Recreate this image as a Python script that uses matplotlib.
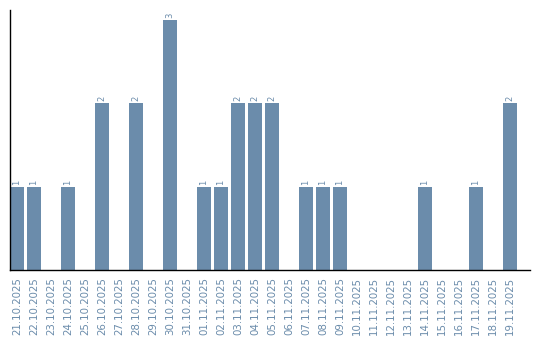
import matplotlib
matplotlib.use("Agg")
import matplotlib.pyplot as plt

dates = ["21.10.2025", "22.10.2025", "23.10.2025", "24.10.2025", "25.10.2025",
         "26.10.2025", "27.10.2025", "28.10.2025", "29.10.2025", "30.10.2025",
         "31.10.2025", "01.11.2025", "02.11.2025", "03.11.2025", "04.11.2025",
         "05.11.2025", "06.11.2025", "07.11.2025", "08.11.2025", "09.11.2025",
         "10.11.2025", "11.11.2025", "12.11.2025", "13.11.2025", "14.11.2025",
         "15.11.2025", "16.11.2025", "17.11.2025", "18.11.2025", "19.11.2025"]
counts = [1, 1, 0, 1, 0, 2, 0, 2, 0, 3,
          0, 1, 1, 2, 2, 2, 0, 1, 1, 1,
          0, 0, 0, 0, 1, 0, 0, 1, 0, 2]

bar_color = "#6b8cab"
text_color = "#6b8cab"

fig = plt.figure(figsize=(5.4, 3.4), dpi=100)
ax = fig.add_axes([10 / 540, 70 / 340, 520 / 540, 260 / 340])

x = list(range(len(dates)))
ax.bar(x, counts, width=0.82, color=bar_color)

for xi, v in zip(x, counts):
    if v > 0:
        ax.text(xi, v + 0.025, str(v), rotation=90, ha="center", va="bottom",
                fontsize=6, color=text_color)

ax.set_xlim(-0.41, 30.18)
ax.set_ylim(0, 3.12)
ax.set_xticks(x)
ax.set_xticklabels(dates, rotation=90, fontsize=7.4, color=text_color)
ax.tick_params(axis="x", length=0, pad=5)
ax.set_yticks([])

for s in ["top", "right"]:
    ax.spines[s].set_visible(False)
ax.spines["left"].set_color("black")
ax.spines["bottom"].set_color("black")
ax.spines["left"].set_linewidth(1)
ax.spines["bottom"].set_linewidth(1)

fig.savefig("out.png", dpi=100)
